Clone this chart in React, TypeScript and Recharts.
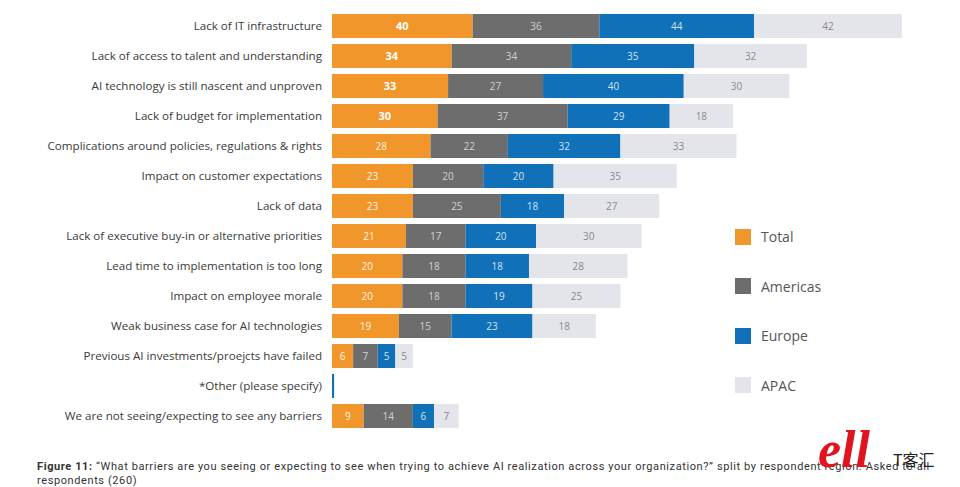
import { BarChart, Bar, XAxis, YAxis, LabelList } from 'recharts'

const categories = [
    'Lack of IT infrastructure',
    'Lack of access to talent and understanding',
    'AI technology is still nascent and unproven',
    'Lack of budget for implementation',
    'Complications around policies, regulations & rights',
    'Impact on customer expectations',
    'Lack of data',
    'Lack of executive buy-in or alternative priorities',
    'Lead time to implementation is too long',
    'Impact on employee morale',
    'Weak business case for AI technologies',
    'Previous AI investments/proejcts have failed',
    '*Other (please specify)',
    'We are not seeing/expecting to see any barriers'
]
const total = [40, 34, 33, 30, 28, 23, 23, 21, 20, 20, 19, 6, 0, 9]
const americas = [36, 34, 27, 37, 22, 20, 25, 17, 18, 18, 15, 7, 0, 14]
const europe = [44, 35, 40, 29, 32, 20, 18, 20, 18, 19, 23, 5, 0.6, 6]
const apac = [42, 32, 30, 18, 33, 35, 27, 30, 28, 25, 18, 5, 0, 7]

const data = categories.map((name, i) => ({
    name,
    total: total[i],
    americas: americas[i],
    europe: europe[i],
    apac: apac[i]
}))

const series = [
    { key: 'total', label: 'Total', color: '#F0962A', text: '#FFF4E6' },
    { key: 'americas', label: 'Americas', color: '#6D6D6D', text: '#D0D0D0' },
    { key: 'europe', label: 'Europe', color: '#1070B8', text: '#CFE2F3' },
    { key: 'apac', label: 'APAC', color: '#E4E5EA', text: '#8A8A8A' }
]

const font = '"Open Sans", "Noto Sans", sans-serif'

function makeLabel(key: string, fill: string) {
    return (props: any) => {
        const { x, y, width, height, value, index } = props
        if (value < 2) return null
        const bold = key === 'total' && index < 4
        return (
            <text
                x={x + width / 2}
                y={y + height / 2}
                dy={4}
                textAnchor="middle"
                fontSize={bold ? 11 : 10}
                fontWeight={bold ? 700 : 400}
                fill={bold ? '#FFFFFF' : fill}
                fontFamily={font}
            >
                {value}
            </text>
        )
    }
}

export default function App() {
    return (
        <div style={{ position: 'absolute', left: 0, top: 0, width: 960, height: 487, background: '#fff', fontFamily: font }}>
            <BarChart
                width={960}
                height={440}
                data={data}
                layout="vertical"
                margin={{ top: 11, right: 30, bottom: 9, left: 0 }}
                barSize={24}
            >
                <XAxis type="number" domain={[0, 170]} hide />
                <YAxis
                    type="category"
                    dataKey="name"
                    width={332}
                    tickLine={false}
                    axisLine={false}
                    tickMargin={4}
                    tick={{ fontSize: 11.6, fill: '#3A3A3A', fontFamily: font }}
                    interval={0}
                />
                {series.map((s) => (
                    <Bar key={s.key} dataKey={s.key} stackId="a" fill={s.color} isAnimationActive={false}>
                        <LabelList dataKey={s.key} content={makeLabel(s.key, s.text)} />
                    </Bar>
                ))}
            </BarChart>
            {series.map((s, i) => (
                <div key={s.key} style={{ position: 'absolute', left: 735, top: 227 + i * 49.5, display: 'flex', alignItems: 'center' }}>
                    <div style={{ width: 16, height: 16, background: s.color }} />
                    <span style={{ marginLeft: 10, fontSize: 14, color: '#555' }}>{s.label}</span>
                </div>
            ))}
            <div
                style={{
                    position: 'absolute',
                    left: 37,
                    top: 460,
                    width: 915,
                    fontSize: 11,
                    letterSpacing: 0.6,
                    lineHeight: '14px',
                    color: '#333',
                    whiteSpace: 'nowrap',
                    fontFamily: 'Roboto, sans-serif'
                }}
            >
                <b>Figure 11:</b> “What barriers are you seeing or expecting to see when trying to achieve AI realization across your organization?” split by respondent region. Asked to all
                <br />
                respondents (260)
            </div>
            <div style={{ position: 'absolute', left: 818, top: 420, fontSize: 52, fontStyle: 'italic', fontWeight: 700, color: '#E0141E', fontFamily: 'serif' }}>
                ell
            </div>
            <div style={{ position: 'absolute', left: 893, top: 447, fontSize: 16, color: '#222', fontFamily: '"Noto Sans CJK SC", sans-serif' }}>
                T客汇
            </div>
        </div>
    )
}
